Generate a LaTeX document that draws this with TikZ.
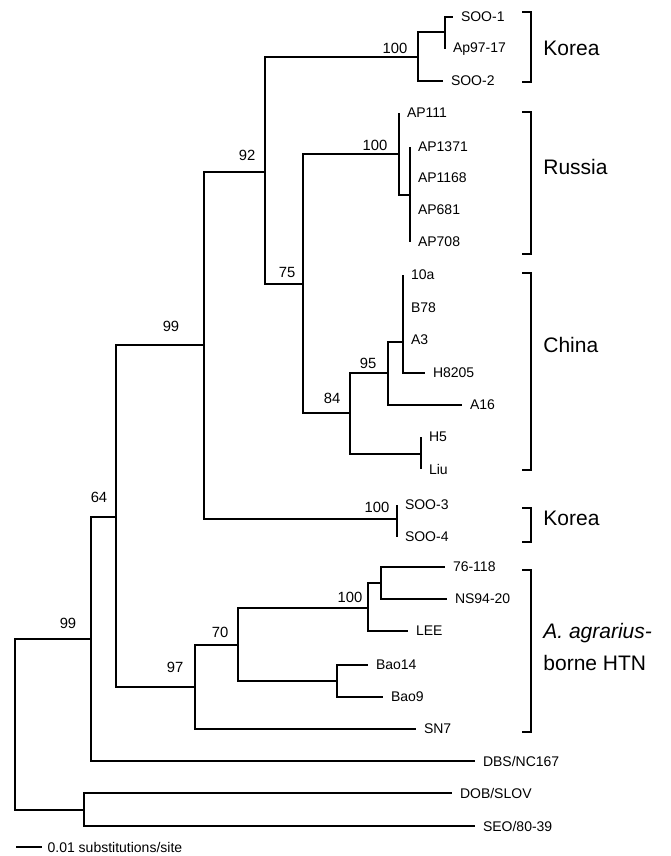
\documentclass[tikz,border=0pt]{standalone}
\usepackage{fontspec}
\setmainfont{Liberation Sans}
\usetikzlibrary{positioning}

\begin{document}
\begin{tikzpicture}[x=0.5pt,y=-0.5pt,
  branch/.style={black,line width=0.6pt},
  brace/.style={black,line width=0.6pt},
  leaf/.style={anchor=west,inner xsep=3.8pt,inner ysep=0pt,font=\fontsize{7}{8}\selectfont},
  boot/.style={inner sep=0pt,font=\fontsize{7.4}{9}\selectfont},
  clade/.style={anchor=west,inner sep=0pt,font=\fontsize{10.5}{12}\selectfont}]
\useasboundingbox (0,0) rectangle (670,856);
% internal nodes
\coordinate (root) at (15,724);
\coordinate (n99b) at (91,639);
\coordinate (n64) at (116,517);
\coordinate (n99a) at (204,345);
\coordinate (n92) at (265,172);
\coordinate (nKor) at (418,57);
\coordinate (nSoo) at (445,32);
\coordinate (n75) at (303,284);
\coordinate (nRus) at (399,154);
\coordinate (nAP) at (410,195);
\coordinate (n84) at (350,413);
\coordinate (n95) at (388,373);
\coordinate (nChn) at (403,342);
\coordinate (nH5) at (421,454);
\coordinate (nKor2) at (397,519);
\coordinate (n97) at (195,687);
\coordinate (n70) at (238,645);
\coordinate (nAgr) at (368,608);
\coordinate (n76) at (381,583);
\coordinate (nBao) at (337,681);
\coordinate (nDob) at (84,810);
% tips
\coordinate (tSOO1) at (453,17);
\coordinate (tAp97) at (445,49);
\coordinate (tSOO2) at (443,81);
\coordinate (tAP111) at (399,113);
\coordinate (tAP1371) at (410,147);
\coordinate (tAP1168) at (410,178);
\coordinate (tAP681) at (410,210);
\coordinate (tAP708) at (410,242);
\coordinate (t10a) at (403,275);
\coordinate (tB78) at (403,308);
\coordinate (tA3) at (403,340);
\coordinate (tH8205) at (425,373);
\coordinate (tA16) at (462,405);
\coordinate (tH5) at (421,437);
\coordinate (tLiu) at (421,469);
\coordinate (tSOO3) at (397,505);
\coordinate (tSOO4) at (397,537);
\coordinate (t76) at (445,567);
\coordinate (tNS94) at (447,599);
\coordinate (tLEE) at (408,631);
\coordinate (tBao14) at (368,665);
\coordinate (tBao9) at (383,697);
\coordinate (tSN7) at (416,729);
\coordinate (tDBS) at (475,761);
\coordinate (tDOB) at (452,793);
\coordinate (tSEO) at (475,826);
% branches
\draw[branch] (root) |- (n99b);
\draw[branch] (root) |- (nDob);
\draw[branch] (n99b) |- (n64);
\draw[branch] (n99b) |- (tDBS);
\draw[branch] (n64) |- (n99a);
\draw[branch] (n64) |- (n97);
\draw[branch] (n99a) |- (n92);
\draw[branch] (n99a) |- (nKor2);
\draw[branch] (n92) |- (nKor);
\draw[branch] (n92) |- (n75);
\draw[branch] (nKor) |- (nSoo);
\draw[branch] (nKor) |- (tSOO2);
\draw[branch] (nSoo) |- (tSOO1);
\draw[branch] (nSoo) |- (tAp97);
\draw[branch] (n75) |- (nRus);
\draw[branch] (n75) |- (n84);
\draw[branch] (nRus) |- (tAP111);
\draw[branch] (nRus) |- (nAP);
\draw[branch] (nAP) |- (tAP1371);
\draw[branch] (nAP) |- (tAP708);
\draw[branch] (n84) |- (n95);
\draw[branch] (n84) |- (nH5);
\draw[branch] (n95) |- (nChn);
\draw[branch] (n95) |- (tA16);
\draw[branch] (nChn) |- (t10a);
\draw[branch] (nChn) |- (tH8205);
\draw[branch] (nH5) |- (tH5);
\draw[branch] (nH5) |- (tLiu);
\draw[branch] (nKor2) |- (tSOO3);
\draw[branch] (nKor2) |- (tSOO4);
\draw[branch] (n97) |- (n70);
\draw[branch] (n97) |- (tSN7);
\draw[branch] (n70) |- (nAgr);
\draw[branch] (n70) |- (nBao);
\draw[branch] (nAgr) |- (n76);
\draw[branch] (nAgr) |- (tLEE);
\draw[branch] (n76) |- (t76);
\draw[branch] (n76) |- (tNS94);
\draw[branch] (nBao) |- (tBao14);
\draw[branch] (nBao) |- (tBao9);
\draw[branch] (nDob) |- (tDOB);
\draw[branch] (nDob) |- (tSEO);
% leaf labels
\node[leaf] (lSOO1) at (tSOO1) {SOO-1};
\node[leaf] (lAp97) at (tAp97) {Ap97-17};
\node[leaf] (lSOO2) at (tSOO2) {SOO-2};
\node[leaf] (lAP111) at (tAP111) {AP111};
\node[leaf] (lAP1371) at (tAP1371) {AP1371};
\node[leaf] (lAP1168) at (tAP1168) {AP1168};
\node[leaf] (lAP681) at (tAP681) {AP681};
\node[leaf] (lAP708) at (tAP708) {AP708};
\node[leaf] (l10a) at (t10a) {10a};
\node[leaf] (lB78) at (tB78) {B78};
\node[leaf] (lA3) at (tA3) {A3};
\node[leaf] (lH8205) at (tH8205) {H8205};
\node[leaf] (lA16) at (tA16) {A16};
\node[leaf] (lH5) at (tH5) {H5};
\node[leaf] (lLiu) at (tLiu) {Liu};
\node[leaf] (lSOO3) at (tSOO3) {SOO-3};
\node[leaf] (lSOO4) at (tSOO4) {SOO-4};
\node[leaf] (l76) at (t76) {76-118};
\node[leaf] (lNS94) at (tNS94) {NS94-20};
\node[leaf] (lLEE) at (tLEE) {LEE};
\node[leaf] (lBao14) at (tBao14) {Bao14};
\node[leaf] (lBao9) at (tBao9) {Bao9};
\node[leaf] (lSN7) at (tSN7) {SN7};
\node[leaf] (lDBS) at (tDBS) {DBS/NC167};
\node[leaf] (lDOB) at (tDOB) {DOB/SLOV};
\node[leaf] (lSEO) at (tSEO) {SEO/80-39};
% bootstrap values
\node[boot] (b99b) at (68,623) {99};
\node[boot] (b64) at (99,497) {64};
\node[boot] (b99a) at (171,326) {99};
\node[boot] (b92) at (247,155) {92};
\node[boot] (bKor) at (395,48) {100};
\node[boot] (b75) at (287,272) {75};
\node[boot] (bRus) at (375,145) {100};
\node[boot] (b84) at (332,398) {84};
\node[boot] (b95) at (368,363) {95};
\node[boot] (bKor2) at (377,507) {100};
\node[boot] (b97) at (175,667) {97};
\node[boot] (b70) at (220,632) {70};
\node[boot] (bAgr) at (350,597) {100};
% clade brackets
\draw[brace] (522,12) -- (531,12) -- (531,82) -- (522,82);
\draw[brace] (522,112) -- (531,112) -- (531,254) -- (522,254);
\draw[brace] (522,273) -- (531,273) -- (531,470) -- (522,470);
\draw[brace] (522,508) -- (531,508) -- (531,542) -- (522,542);
\draw[brace] (522,570) -- (531,570) -- (531,732) -- (522,732);
\node[clade] (cKor) at (543,48) {Korea};
\node[clade] (cRus) at (543,167) {Russia};
\node[clade] (cChn) at (543,345) {China};
\node[clade] (cKor2) at (543,518) {Korea};
\node[clade] (cAgr) at (543,633) {\itshape A. agrarius-};
\node[clade] (cHtn) at (543,663) {borne HTN};
% scale bar
\coordinate (sb0) at (16,847);
\coordinate (sb1) at (42,847);
\draw[branch] (sb0) -- (sb1);
\node[leaf,inner xsep=2.6pt] (sbt) at (sb1) {0.01 substitutions/site};
\end{tikzpicture}
\end{document}
